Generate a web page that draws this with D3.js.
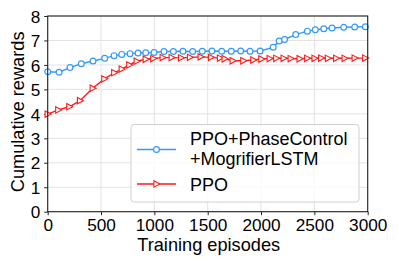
<!DOCTYPE html>
<html>
<head>
<meta charset="utf-8">
<script src="https://cdn.jsdelivr.net/npm/d3@7"></script>
<style>
  body { margin: 0; background: #fff; }
  svg { font-family: Arial, "Liberation Sans", sans-serif; }
</style>
</head>
<body>
<div class="chart"></div>
<script>
// data
const blueEpisodes = [0, 106, 209, 315, 425, 534, 622, 694, 772, 847, 919, 997, 1090, 1178, 1268, 1359, 1449, 1540, 1631, 1721, 1809, 1897, 1991, 2114, 2170, 2220, 2325, 2434, 2509, 2588, 2666, 2775, 2878, 2978];
const blueRewards  = [5.72, 5.70, 5.89, 6.05, 6.16, 6.27, 6.38, 6.43, 6.46, 6.49, 6.50, 6.51, 6.55, 6.55, 6.56, 6.55, 6.56, 6.57, 6.56, 6.56, 6.57, 6.56, 6.57, 6.72, 6.98, 7.04, 7.24, 7.38, 7.44, 7.48, 7.51, 7.54, 7.55, 7.56];

const redEpisodes = [0, 99, 203, 303, 422, 531, 624, 694, 765, 834, 919, 990, 1078, 1162, 1250, 1334, 1434, 1531, 1615, 1659, 1734, 1834, 1928, 2003, 2081, 2143, 2212, 2278, 2362, 2433, 2502, 2564, 2627, 2705, 2784, 2878, 2977];
const redRewards  = [3.99, 4.16, 4.29, 4.54, 5.05, 5.43, 5.68, 5.83, 6.00, 6.15, 6.23, 6.26, 6.30, 6.30, 6.29, 6.31, 6.33, 6.31, 6.28, 6.25, 6.17, 6.17, 6.20, 6.24, 6.26, 6.27, 6.27, 6.26, 6.25, 6.27, 6.27, 6.28, 6.27, 6.27, 6.27, 6.28, 6.28];

const xTicks = [0, 500, 1000, 1500, 2000, 2500, 3000];
const yTicks = [0, 1, 2, 3, 4, 5, 6, 7, 8];
const seriesNames = ['PPO+PhaseControl', '+MogrifierLSTM', 'PPO'];

const W = 399, H = 266;
const margin = { top: 16, right: 31.3, bottom: 54.3, left: 47.7 };
const innerW = W - margin.left - margin.right;
const innerH = H - margin.top - margin.bottom;

const blue = '#3399ff';
const red = '#ff1a1a';

const svg = d3.select('.chart').append('svg')
    .attr('width', W)
    .attr('height', H);

const g = svg.append('g')
    .attr('transform', `translate(${margin.left},${margin.top})`);

// scales
const xScale = d3.scaleLinear().domain([0, 3000]).range([0, innerW]);
const yScale = d3.scaleLinear().domain([0, 8]).range([innerH, 0]);

// grid
g.append('g')
    .selectAll('line')
    .data(xTicks)
    .join('line')
    .attr('x1', d => xScale(d)).attr('x2', d => xScale(d))
    .attr('y1', 0).attr('y2', innerH)
    .attr('stroke', '#e3e3e3').attr('stroke-width', 1);
g.append('g')
    .selectAll('line')
    .data(yTicks)
    .join('line')
    .attr('x1', 0).attr('x2', innerW)
    .attr('y1', d => yScale(d)).attr('y2', d => yScale(d))
    .attr('stroke', '#e3e3e3').attr('stroke-width', 1);

// axes
const xAxis = d3.axisBottom(xScale).tickValues(xTicks).tickSize(3.5).tickPadding(3.5).tickFormat(d3.format('d'));
const yAxis = d3.axisLeft(yScale).tickValues(yTicks).tickSize(3.5).tickPadding(4);

const xAxis_group = g.append('g')
    .attr('transform', `translate(0,${innerH})`)
    .call(xAxis);
const yAxis_group = g.append('g').call(yAxis);

[xAxis_group, yAxis_group].forEach(ax => {
    ax.select('.domain').remove();
    ax.selectAll('.tick line').attr('stroke', '#222').attr('stroke-width', 1);
    ax.selectAll('.tick text')
        .attr('font-size', 17.2)
        .attr('font-family', 'Arial, "Liberation Sans", sans-serif')
        .attr('fill', '#000');
});
yAxis_group.selectAll('.tick text').attr('dy', '0.36em');

// lines
const line = d3.line()
    .x(d => xScale(d[0]))
    .y(d => yScale(d[1]));

const blueData = blueEpisodes.map((e, i) => [e, blueRewards[i]]);
const redData = redEpisodes.map((e, i) => [e, redRewards[i]]);

const plot = g.append('g');

plot.append('path')
    .datum(redData)
    .attr('d', line)
    .attr('fill', 'none')
    .attr('stroke', red)
    .attr('stroke-width', 1.4);

const tri = 'M-2.6,-3.2 L3.4,0 L-2.6,3.2 Z';
plot.selectAll('.tri')
    .data(redData)
    .join('path')
    .attr('class', 'tri')
    .attr('d', tri)
    .attr('transform', d => `translate(${xScale(d[0])},${yScale(d[1])})`)
    .attr('fill', '#fff')
    .attr('stroke', red)
    .attr('stroke-width', 1.1);

plot.append('path')
    .datum(blueData)
    .attr('d', line)
    .attr('fill', 'none')
    .attr('stroke', blue)
    .attr('stroke-width', 1.4);

plot.selectAll('.dot')
    .data(blueData)
    .join('circle')
    .attr('class', 'dot')
    .attr('cx', d => xScale(d[0]))
    .attr('cy', d => yScale(d[1]))
    .attr('r', 2.9)
    .attr('fill', '#fff')
    .attr('stroke', blue)
    .attr('stroke-width', 1.2);

// frame
g.append('rect')
    .attr('x', 0).attr('y', 0)
    .attr('width', innerW).attr('height', innerH)
    .attr('fill', 'none')
    .attr('stroke', '#222')
    .attr('stroke-width', 1.1);

// legend
const legend = svg.append('g');
legend.append('rect')
    .attr('x', 131).attr('y', 124.5)
    .attr('width', 228).attr('height', 77.5)
    .attr('rx', 3)
    .attr('fill', 'rgba(255,255,255,0.8)')
    .attr('stroke', '#d0d0d0')
    .attr('stroke-width', 1);

legend.append('line')
    .attr('x1', 137).attr('x2', 176).attr('y1', 149.5).attr('y2', 149.5)
    .attr('stroke', blue).attr('stroke-width', 1.4);
legend.append('circle')
    .attr('cx', 156.5).attr('cy', 149.5).attr('r', 2.9)
    .attr('fill', '#fff').attr('stroke', blue).attr('stroke-width', 1.2);

legend.append('line')
    .attr('x1', 137).attr('x2', 176).attr('y1', 184).attr('y2', 184)
    .attr('stroke', red).attr('stroke-width', 1.4);
legend.append('path')
    .attr('d', tri)
    .attr('transform', 'translate(156.5,184)')
    .attr('fill', '#fff').attr('stroke', red).attr('stroke-width', 1.1);

legend.selectAll('text')
    .data(seriesNames)
    .join('text')
    .attr('x', 190)
    .attr('y', (d, i) => [144.5, 165, 190.7][i])
    .attr('font-size', 18)
    .attr('fill', '#000')
    .text(d => d);

// axis labels
svg.append('text')
    .attr('x', margin.left + innerW / 2 + 1)
    .attr('y', 251)
    .attr('text-anchor', 'middle')
    .attr('font-size', 18.2)
    .text('Training episodes');

svg.append('text')
    .attr('transform', `translate(24,${margin.top + innerH / 2 - 2}) rotate(-90)`)
    .attr('text-anchor', 'middle')
    .attr('font-size', 18.2)
    .text('Cumulative rewards');
</script>
</body>
</html>
